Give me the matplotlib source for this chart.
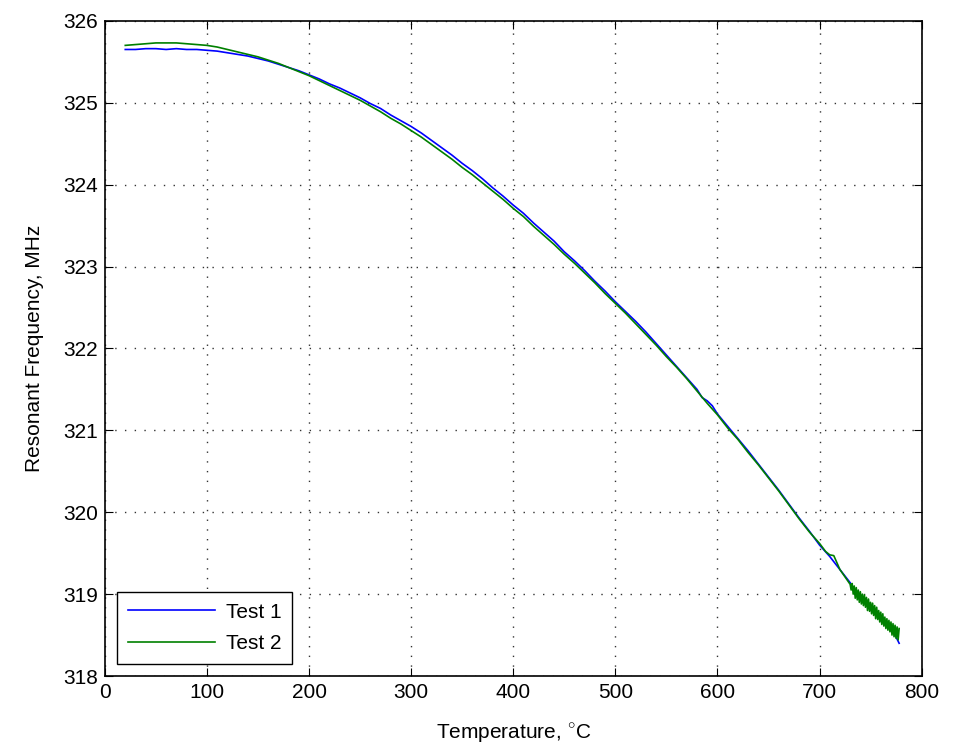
import numpy as np
import matplotlib.pyplot as plt

plt.rcParams['font.family'] = ['Liberation Sans', 'DejaVu Sans']
plt.rcParams['mathtext.fontset'] = 'custom'
plt.rcParams['mathtext.rm'] = 'Liberation Sans'

# Test 1 (blue)
t1_temp = [20, 30, 40, 50, 60, 70, 80, 90, 100, 110, 120, 130, 140, 150, 160, 170, 180, 190,
           200, 210, 220, 230, 240, 250, 260, 270, 280, 290, 300, 310, 320, 330, 340, 350,
           360, 370, 380, 390, 400, 410, 420, 430, 440, 450, 460, 470, 480, 490, 500, 510,
           520, 530, 540, 550, 560, 570, 580, 585, 590, 595, 600, 610, 620, 630, 640, 650,
           660, 670, 680, 690, 700, 710, 720, 730, 735, 740, 745, 750, 755, 760, 765, 770,
           774, 778]
t1_freq = [325.65, 325.65, 325.66, 325.66, 325.65, 325.66, 325.65, 325.65, 325.64, 325.63,
           325.61, 325.59, 325.57, 325.54, 325.51, 325.47, 325.43, 325.39, 325.34, 325.29,
           325.23, 325.18, 325.12, 325.06, 324.99, 324.93, 324.85, 324.78, 324.71, 324.63,
           324.54, 324.45, 324.36, 324.26, 324.17, 324.07, 323.96, 323.86, 323.75, 323.65,
           323.53, 323.42, 323.31, 323.18, 323.07, 322.95, 322.82, 322.70, 322.57, 322.45,
           322.33, 322.20, 322.06, 321.92, 321.78, 321.64, 321.50, 321.40, 321.36, 321.30,
           321.20, 321.05, 320.90, 320.75, 320.59, 320.43, 320.27, 320.10, 319.93, 319.77,
           319.60, 319.46, 319.30, 319.14, 319.04, 318.99, 318.90, 318.86, 318.76, 318.72,
           318.62, 318.58, 318.50, 318.40]

# Test 2 (green)
t2_temp = [20, 30, 40, 50, 60, 70, 80, 90, 100, 110, 120, 130, 140, 150, 160, 170, 180, 190,
           200, 210, 220, 230, 240, 250, 260, 270, 280, 290, 300, 310, 320, 330, 340, 350,
           360, 370, 380, 390, 400, 410, 420, 430, 440, 450, 460, 470, 480, 490, 500, 510,
           520, 530, 540, 550, 560, 570, 580, 590, 600, 610, 620, 630, 640, 650, 660, 670,
           680, 690, 700, 706, 710, 714, 720,
           730, 731, 732, 733, 734, 735, 736, 737, 738, 739, 740, 741, 742, 743, 744, 745,
           746, 747, 748, 749, 750, 751, 752, 753, 754, 755, 756, 757, 758, 759, 760, 761,
           762, 763, 764, 765, 766, 767, 768, 769, 770, 771, 772, 773, 774, 775, 776, 777, 778]
t2_freq = [325.70, 325.71, 325.72, 325.73, 325.73, 325.73, 325.72, 325.71, 325.70, 325.68,
           325.65, 325.62, 325.59, 325.56, 325.52, 325.48, 325.43, 325.38, 325.33, 325.27,
           325.21, 325.15, 325.09, 325.03, 324.96, 324.89, 324.81, 324.74, 324.66, 324.58,
           324.49, 324.40, 324.31, 324.21, 324.12, 324.02, 323.92, 323.82, 323.71, 323.61,
           323.49, 323.38, 323.27, 323.15, 323.04, 322.92, 322.80, 322.67, 322.55, 322.43,
           322.30, 322.17, 322.04, 321.90, 321.77, 321.63, 321.48, 321.33, 321.19, 321.03,
           320.89, 320.73, 320.58, 320.42, 320.26, 320.09, 319.92, 319.76, 319.62, 319.52,
           319.48, 319.47, 319.30,
           319.12, 319.05, 319.13, 319.00, 319.10, 318.95, 319.08, 318.93, 319.05, 318.90,
           319.03, 318.88, 319.00, 318.86, 318.99, 318.84, 318.96, 318.80, 318.94, 318.79,
           318.90, 318.76, 318.89, 318.74, 318.86, 318.70, 318.84, 318.69, 318.80, 318.66,
           318.78, 318.63, 318.76, 318.61, 318.72, 318.58, 318.70, 318.56, 318.68, 318.54,
           318.66, 318.50, 318.64, 318.48, 318.62, 318.46, 318.60, 318.44, 318.58]

fig = plt.figure(figsize=(9.62, 7.54), dpi=100)
ax = fig.add_axes([0.109, 0.1034, 0.849, 0.869])

ax.plot(t1_temp, t1_freq, color='#0000ff', lw=1.2, label='Test 1')
ax.plot(t2_temp, t2_freq, color='#008000', lw=1.2, label='Test 2')

ax.set_xlim(0, 800)
ax.set_ylim(318, 326)
ax.set_xticks(np.arange(0, 801, 100))
ax.set_yticks(np.arange(318, 326.5, 1))
ax.grid(True, color='#333333', linestyle=(0, (1, 6)), linewidth=1.0)
ax.tick_params(direction='in', top=True, right=True, length=6, labelsize=15, pad=5)
for s in ax.spines.values():
    s.set_linewidth(1.2)

ax.set_xlabel('Temperature, $^{\\circ}$C', fontsize=15, labelpad=14)
ax.set_ylabel('Resonant Frequency, MHz', fontsize=15, labelpad=14)

leg = ax.legend(loc='lower left', fontsize=15, fancybox=False, framealpha=1,
                edgecolor='black', borderaxespad=0.6, handlelength=4.2,
                handletextpad=0.5, labelspacing=0.6, borderpad=0.5)
leg.get_frame().set_linewidth(1.0)

fig.savefig('out.png', dpi=100)
